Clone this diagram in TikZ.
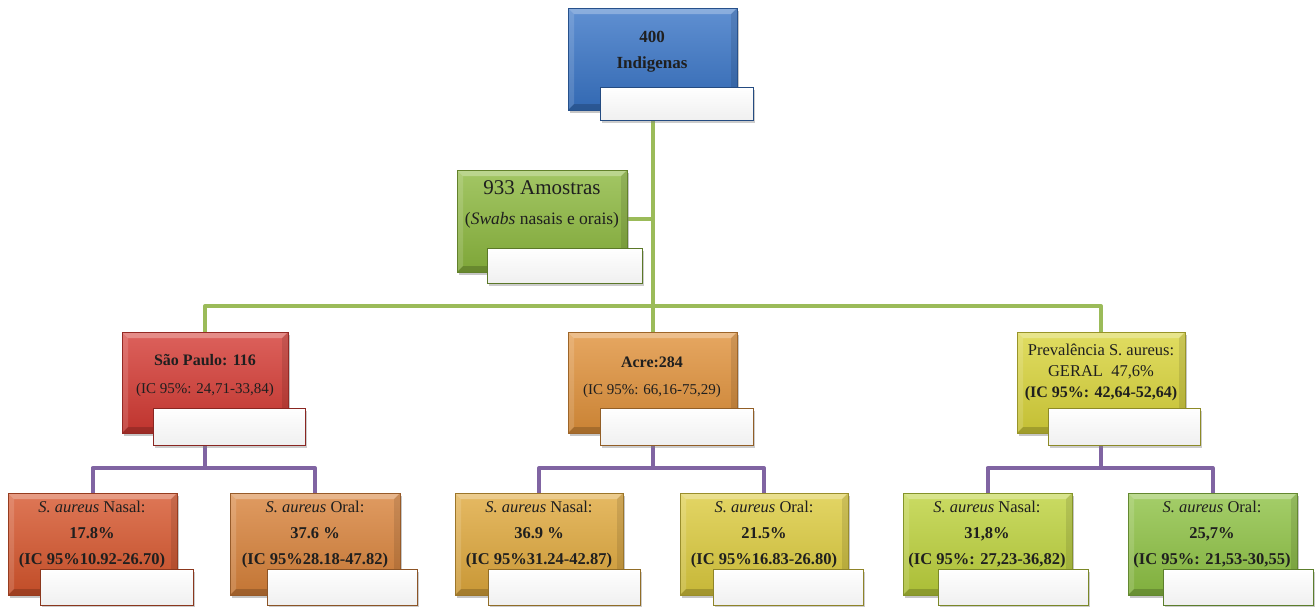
\documentclass[tikz,border=0pt]{standalone}
\usepackage{fontspec}
\setmainfont{Liberation Serif}
\usetikzlibrary{shadows,fit,backgrounds}
\definecolor{blueC}{HTML}{3874C6}
\definecolor{greenA}{HTML}{8CB83E}
\definecolor{redC}{HTML}{D43A33}
\definecolor{orangeC}{HTML}{E0913A}
\definecolor{yellowC}{HTML}{D9D43A}
\definecolor{spnC}{HTML}{D6552C}
\definecolor{spoC}{HTML}{D8823A}
\definecolor{acnC}{HTML}{DFA83C}
\definecolor{acoC}{HTML}{DCCB3E}
\definecolor{prnC}{HTML}{BDD23C}
\definecolor{proC}{HTML}{8EC244}
\definecolor{lineG}{HTML}{9BBB59}
\definecolor{lineP}{HTML}{8064A2}
\tikzset{
  bevel/.style={path picture={
    \coordinate (bvnw) at (path picture bounding box.north west);
    \coordinate (bvne) at (path picture bounding box.north east);
    \coordinate (bvsw) at (path picture bounding box.south west);
    \coordinate (bvse) at (path picture bounding box.south east);
    \fill[white,opacity=.28] (bvnw) -- (bvne) -- ([xshift=-6pt,yshift=-6pt]bvne) -- ([xshift=6pt,yshift=-6pt]bvnw) -- cycle;
    \fill[white,opacity=.14] (bvnw) -- (bvsw) -- ([xshift=6pt,yshift=6pt]bvsw) -- ([xshift=6pt,yshift=-6pt]bvnw) -- cycle;
    \fill[black,opacity=.18] (bvsw) -- (bvse) -- ([xshift=-6pt,yshift=6pt]bvse) -- ([xshift=6pt,yshift=6pt]bvsw) -- cycle;
    \fill[black,opacity=.10] (bvne) -- (bvse) -- ([xshift=-6pt,yshift=6pt]bvse) -- ([xshift=-6pt,yshift=-6pt]bvne) -- cycle;
  }},
  cbox/.style={draw=#1!70!black, line width=0.6pt, top color=#1!80!white, bottom color=#1!90!black,
    inner sep=0pt, drop shadow={shadow xshift=2pt,shadow yshift=-3pt,opacity=.45}, bevel},
  wbox/.style={draw=#1!65!black, line width=0.9pt, top color=white, bottom color=black!6,
    inner sep=0pt, drop shadow={shadow xshift=2pt,shadow yshift=-3pt,opacity=.4}},
  txt/.style={align=center, inner sep=0pt, text=black!88},
  gline/.style={draw=lineG, line width=4pt, line join=round},
  pline/.style={draw=lineP, line width=4pt, line join=round},
}
\begin{document}
\begin{tikzpicture}[x=1pt,y=-1pt]
\useasboundingbox (0,0) rectangle (1315,606);
% level 0
\node[cbox=blueC, fit={(568,8) (737,110)}] (top) {};
\node[wbox=blueC, fit={(600,87) (753,120)}] (topw) {};
\node[txt, font=\fontsize{17}{26}\selectfont\bfseries] (topT) at (652,52) {400\\Indigenas};
% amostras
\node[cbox=greenA, fit={(457,170) (627,272)}] (am) {};
\node[wbox=greenA, fit={(487,248) (642,283)}] (amw) {};
\node[txt, font=\fontsize{17.5}{30}\selectfont] (amT) at (542,204) {{\fontsize{21}{30}\selectfont 933 Amostras}\\(\textit{Swabs} nasais e orais)};
% level 1
\node[cbox=redC, fit={(122,332) (288,433)}] (sp) {};
\node[wbox=redC, fit={(153,408) (305,445)}] (spw) {};
\node[txt, font=\fontsize{15}{28}\selectfont] (spT) at (205,376) {{\fontsize{16}{28}\selectfont\bfseries São Paulo: 116}\\(IC 95\%: 24,71-33,84)};
\node[cbox=orangeC, fit={(568,332) (737,433)}] (ac) {};
\node[wbox=orangeC, fit={(600,408) (753,445)}] (acw) {};
\node[txt, font=\fontsize{15}{27}\selectfont] (acT) at (652,377) {{\fontsize{16}{27}\selectfont\bfseries Acre:284}\\(IC 95\%: 66,16-75,29)};
\node[cbox=yellowC, fit={(1017,332) (1185,433)}] (pr) {};
\node[wbox=yellowC, fit={(1048,408) (1200,445)}] (prw) {};
\node[txt, font=\fontsize{16.5}{21}\selectfont] (prT) at (1101,372) {Prevalência S. aureus:\\GERAL\ \ 47,6\%\\{\fontsize{16}{21}\selectfont\bfseries (IC 95\%: 42,64-52,64)}};
% level 2
\node[cbox=spnC, fit={(8,493) (177,595)}] (spn) {};
\node[wbox=spnC, fit={(40,569) (193,605)}] (spnw) {};
\node[txt, font=\fontsize{16.5}{26}\selectfont] (spnT) at (92,535) {\textit{S. aureus} Nasal:\\\textbf{17.8\%}\\\textbf{(IC 95\%10.92-26.70)}};
\node[cbox=spoC, fit={(230,493) (400,595)}] (spo) {};
\node[wbox=spoC, fit={(267,569) (417,605)}] (spow) {};
\node[txt, font=\fontsize{16.5}{26}\selectfont] (spoT) at (315,535) {\textit{S. aureus} Oral:\\\textbf{37.6 \%}\\\textbf{(IC 95\%28.18-47.82)}};
\node[cbox=acnC, fit={(455,493) (623,595)}] (acn) {};
\node[wbox=acnC, fit={(488,569) (640,605)}] (acnw) {};
\node[txt, font=\fontsize{16.5}{26}\selectfont] (acnT) at (539,535) {\textit{S. aureus} Nasal:\\\textbf{36.9 \%}\\\textbf{(IC 95\%31.24-42.87)}};
\node[cbox=acoC, fit={(680,493) (848,595)}] (aco) {};
\node[wbox=acoC, fit={(713,569) (863,605)}] (acow) {};
\node[txt, font=\fontsize{16.5}{26}\selectfont] (acoT) at (764,535) {\textit{S. aureus} Oral:\\\textbf{21.5\%}\\\textbf{(IC 95\%16.83-26.80)}};
\node[cbox=prnC, fit={(903,493) (1072,595)}] (prn) {};
\node[wbox=prnC, fit={(938,569) (1088,605)}] (prnw) {};
\node[txt, font=\fontsize{16.5}{26}\selectfont] (prnT) at (987,535) {\textit{S. aureus} Nasal:\\\textbf{31,8\%}\\\textbf{(IC 95\%: 27,23-36,82)}};
\node[cbox=proC, fit={(1128,493) (1297,595)}] (pro) {};
\node[wbox=proC, fit={(1163,569) (1313,605)}] (prow) {};
\node[txt, font=\fontsize{16.5}{26}\selectfont] (proT) at (1212,535) {\textit{S. aureus} Oral:\\\textbf{25,7\%}\\\textbf{(IC 95\%: 21,53-30,55)}};
% connectors
\coordinate (gbar) at (652,306);
\coordinate (pbar) at (0,468);
\begin{pgfonlayer}{background}
\draw[gline] (top.south) -- (ac.north);
\draw[gline] (am.east |- 0,219) -- (top.south |- 0,219);
\draw[gline] (sp.north) |- (gbar) -| (pr.north);
\draw[pline] (sp.south) -- (sp.south |- pbar);
\draw[pline] (spn.north) |- (sp.south |- pbar) -| (spo.north);
\draw[pline] (ac.south) -- (ac.south |- pbar);
\draw[pline] (acn.north) |- (ac.south |- pbar) -| (aco.north);
\draw[pline] (pr.south) -- (pr.south |- pbar);
\draw[pline] (prn.north) |- (pr.south |- pbar) -| (pro.north);
\end{pgfonlayer}
\end{tikzpicture}
\end{document}
